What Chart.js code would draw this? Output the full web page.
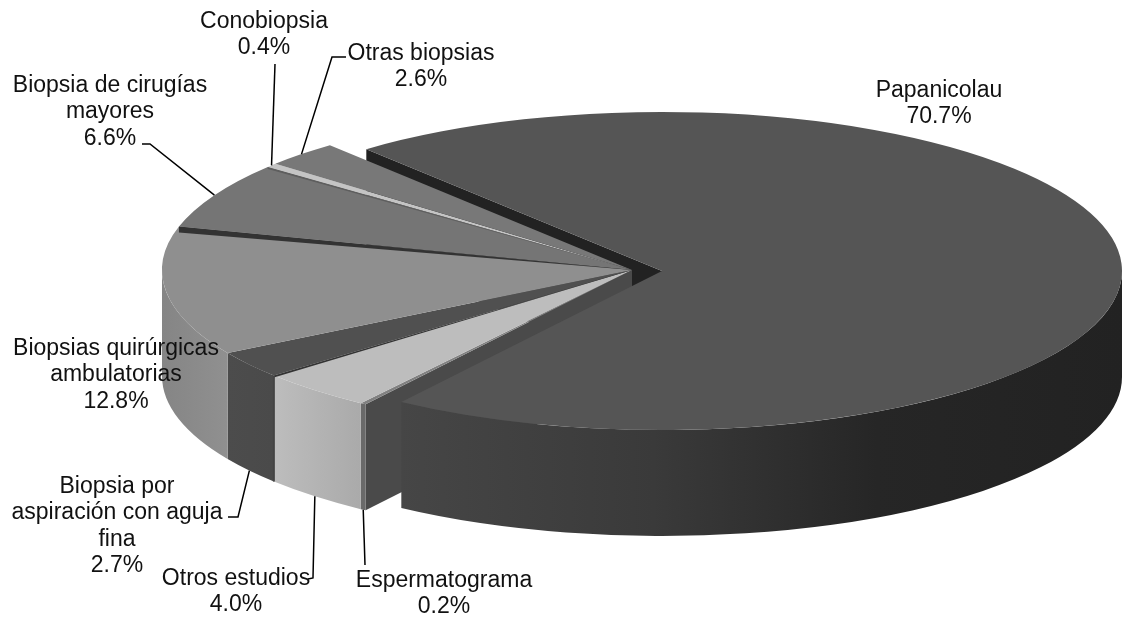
<!DOCTYPE html>
<html lang="es">
<head>
<meta charset="utf-8">
<title>Estudios</title>
<script src="https://cdn.jsdelivr.net/npm/chart.js@4/dist/chart.umd.min.js"></script>
<style>
  html, body { margin: 0; padding: 0; background: #fff; }
  #wrap { position: relative; width: 1122px; height: 618px; overflow: hidden; }
  canvas { position: absolute; left: 0; top: 0; }
  .label {
    position: absolute;
    transform: translate(-50%, 0);
    text-align: center;
    white-space: nowrap;
    font-family: "Liberation Sans", Arial, sans-serif;
    font-size: 23px;
    line-height: 26.4px;
    color: #111;
  }
</style>
</head>
<body>
<div id="wrap"><canvas id="pie" width="1122" height="618"></canvas></div>
<script>
const categories = ['Papanicolau', 'Espermatograma', 'Otros estudios', 'Biopsia por aspiración con aguja fina', 'Biopsias quirúrgicas ambulatorias', 'Biopsia de cirugías mayores', 'Conobiopsia', 'Otras biopsias'];
const percentages = [70.7, 0.2, 4.0, 2.7, 12.8, 6.6, 0.4, 2.6];
const labelLines = [['Papanicolau'], ['Espermatograma'], ['Otros estudios'], ['Biopsia por', 'aspiración con aguja', 'fina'], ['Biopsias quirúrgicas', 'ambulatorias'], ['Biopsia de cirugías', 'mayores'], ['Conobiopsia'], ['Otras biopsias']];
const topColors = ['#555555', '#808080', '#bdbdbd', '#505050', '#8f8f8f', '#757575', '#c4c4c4', '#787878'];

// look of the tilted pie, in page pixels
const restShape = { cx: 632, cy: 270, rx: 470, ry: 163 };
const papShape = { cx: 662, cy: 271, rx: 460, ry: 159 };
const rimHeight = 106;
const rimStops = [
  [['#464646', 0], ['#3a3a3a', 0.35], ['#262626', 0.66], ['#222222', 1]],
  [['#6a6a6a', 0], ['#6a6a6a', 1]],
  [['#bdbdbd', 0], ['#aaaaaa', 1]],
  [['#4c4c4c', 0], ['#4a4a4a', 1]],
  [['#858585', 0], ['#909090', 1]],
  [['#666666', 0], ['#666666', 1]],
  [['#999999', 0], ['#999999', 1]],
  [['#666666', 0], ['#666666', 1]],
];
// thin dark edges along some slice boundaries: slice index, colour, width at the rim
const seams = [[5, '#333333', 6], [3, '#333333', 2], [6, '#5e5e5e', 2]];

// label layout: top centre of the text block, then the leader line from the slice to the text
const labelBoxes = [[939, 76], [444, 566], [236, 564], [117, 472], [116, 334], [110, 71], [264, 7], [421, 39]];
const leaders = [null, [[365, 565]], [[313, 578], [308, 579]], [[238, 517], [228, 517]], null, [[150, 144], [142, 144]], [[275, 64]], [[332, 57], [346, 57]]];

const shapeOf = i => (i === 0 ? papShape : restShape);
const edge = (s, a) => [s.cx + s.rx * Math.cos(a), s.cy + s.ry * Math.sin(a)];

function drawRim(ctx, arc, i) {
  const s = shapeOf(i);
  const from = Math.max(arc.startAngle, 0);
  const to = Math.min(arc.endAngle, Math.PI);
  if (from >= to) return;
  const [xa] = edge(s, to);
  const [xb] = edge(s, from);
  const grad = ctx.createLinearGradient(Math.min(xa, xb), 0, Math.max(xa, xb), 0);
  rimStops[i].forEach(([c, p]) => grad.addColorStop(p, c));
  ctx.fillStyle = grad;
  ctx.beginPath();
  ctx.ellipse(s.cx, s.cy, s.rx, s.ry, 0, from, to);
  ctx.ellipse(s.cx, s.cy + rimHeight, s.rx, s.ry, 0, to, from, true);
  ctx.closePath();
  ctx.fill();
}

function drawFace(ctx, s, a, color) {
  const [x, y] = edge(s, a);
  ctx.fillStyle = color;
  ctx.beginPath();
  ctx.moveTo(s.cx, s.cy);
  ctx.lineTo(x, y);
  ctx.lineTo(x, y + rimHeight);
  ctx.lineTo(s.cx, s.cy + rimHeight);
  ctx.closePath();
  ctx.fill();
}

function drawTop(ctx, arc, i) {
  const s = shapeOf(i);
  ctx.save();
  ctx.translate(s.cx, s.cy);
  ctx.scale(s.rx / arc.outerRadius, s.ry / arc.outerRadius);
  ctx.translate(-arc.x, -arc.y);
  arc.draw(ctx);
  ctx.restore();
}

const pie3d = {
  id: 'pie3d',
  beforeDatasetsDraw(chart) {
    const ctx = chart.ctx;
    const arcs = chart.getDatasetMeta(0).data;

    ctx.save();
    drawFace(ctx, papShape, arcs[0].startAngle, '#222222');
    drawFace(ctx, restShape, arcs[1].startAngle, '#4a4a4a');
    drawRim(ctx, arcs[0], 0);
    drawTop(ctx, arcs[0], 0);
    for (let i = 1; i < arcs.length; i++) drawRim(ctx, arcs[i], i);
    for (let i = 1; i < arcs.length; i++) drawTop(ctx, arcs[i], i);

    seams.forEach(([i, color, width]) => {
      const [x, y] = edge(restShape, arcs[i].startAngle);
      ctx.fillStyle = color;
      ctx.beginPath();
      ctx.moveTo(restShape.cx, restShape.cy);
      ctx.lineTo(x, y);
      ctx.lineTo(x, y + width);
      ctx.closePath();
      ctx.fill();
    });

    // rim line between the two front slices
    const [sx, sy] = edge(restShape, arcs[3].startAngle);
    ctx.strokeStyle = '#444444';
    ctx.lineWidth = 2;
    ctx.beginPath();
    ctx.moveTo(sx, sy);
    ctx.lineTo(sx, sy + rimHeight);
    ctx.stroke();

    // leader lines start on the slice they belong to
    ctx.strokeStyle = '#000000';
    ctx.lineWidth = 1.5;
    leaders.forEach((points, i) => {
      if (!points) return;
      const mid = (arcs[i].startAngle + arcs[i].endAngle) / 2;
      const [x, y] = edge(restShape, mid);
      const drop = Math.sin(mid) > 0 ? rimHeight : 0;
      ctx.beginPath();
      ctx.moveTo(x, y + drop);
      points.forEach(([px, py]) => ctx.lineTo(px, py));
      ctx.stroke();
    });
    ctx.restore();
    return false;
  },
};

new Chart(document.getElementById('pie'), {
  type: 'pie',
  data: {
    labels: categories,
    datasets: [{
      data: percentages,
      backgroundColor: topColors,
      borderWidth: 0,
    }],
  },
  options: {
    responsive: false,
    animation: false,
    rotation: -40,
    plugins: { legend: { display: false }, tooltip: { enabled: false } },
  },
  plugins: [pie3d],
});

document.getElementById('wrap').insertAdjacentHTML('beforeend', labelLines.map((lines, i) => `
  <div class="label" style="left:${labelBoxes[i][0]}px;top:${labelBoxes[i][1]}px">
    ${lines.join('<br>')}<br>${percentages[i].toFixed(1)}%
  </div>
`).join(''));
</script>
</body>
</html>
